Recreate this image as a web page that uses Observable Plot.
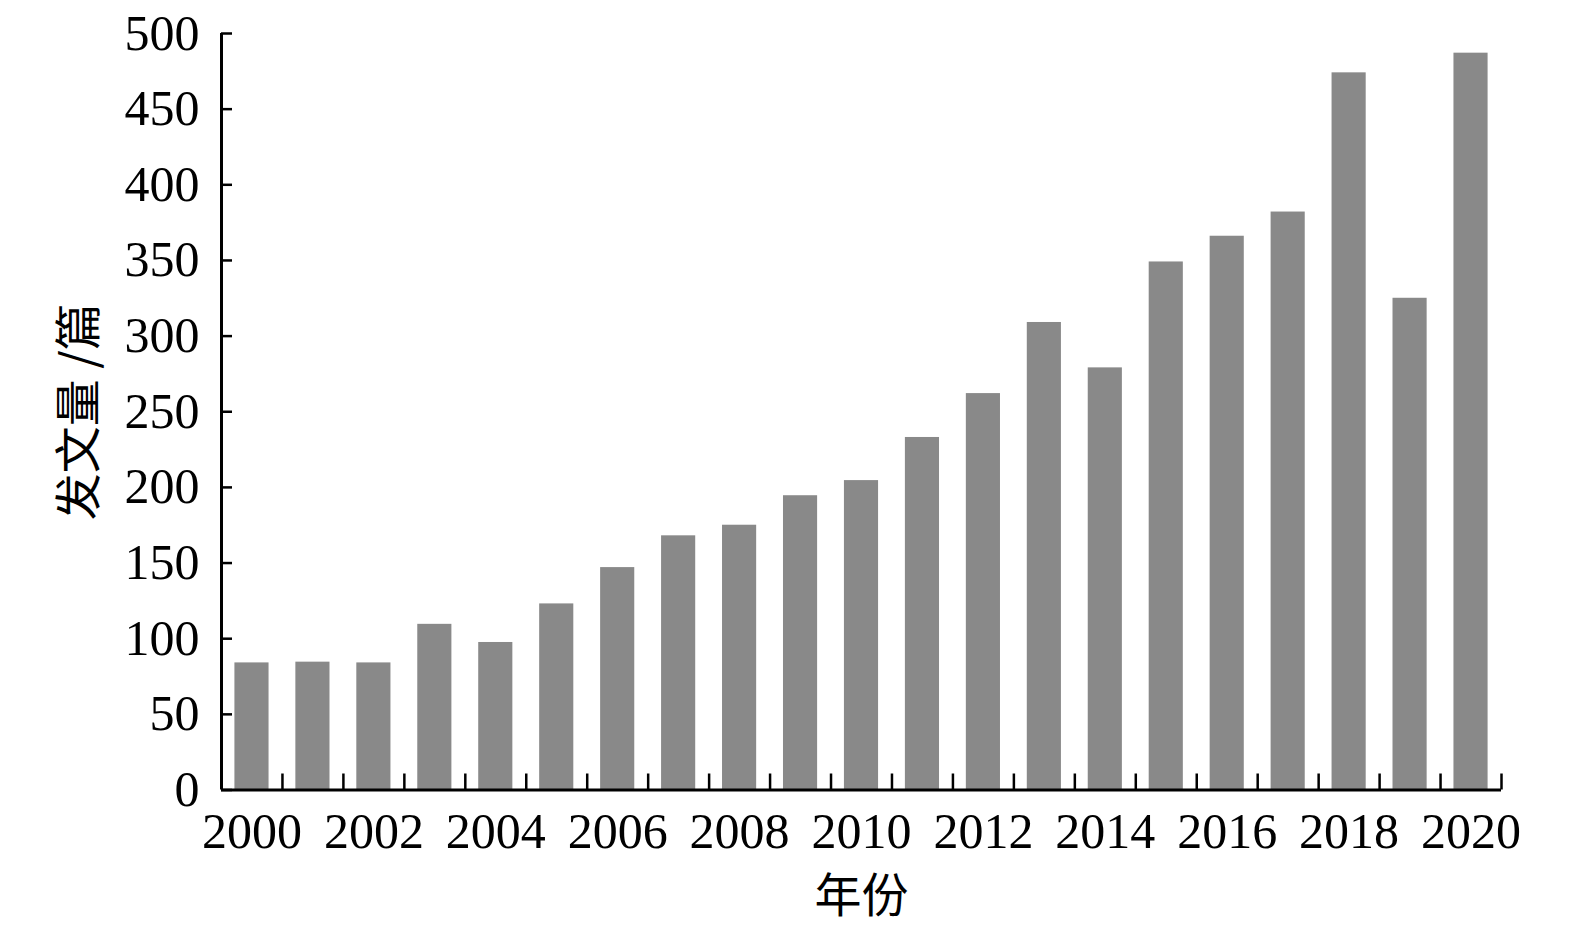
<!DOCTYPE html>
<html>
<head>
<meta charset="utf-8">
<script src="https://cdn.jsdelivr.net/npm/d3@7"></script>
<script src="https://cdn.jsdelivr.net/npm/@observablehq/plot@0.6"></script>
<style>
  body { margin: 0; background: #ffffff; }
  #chart svg { display: block; }
</style>
</head>
<body>
<div id="chart"></div>
<script>
// ---- data ----
const years = [2000, 2001, 2002, 2003, 2004, 2005, 2006, 2007, 2008, 2009, 2010,
               2011, 2012, 2013, 2014, 2015, 2016, 2017, 2018, 2019, 2020];
const counts = [84, 84.5, 84, 109.5, 97.5, 123, 147, 168, 175, 194.5, 204.5,
                233, 262, 309, 279, 349, 366, 382, 474, 325, 487];
const yTickValues = [0, 50, 100, 150, 200, 250, 300, 350, 400, 450, 500];
const xLabelYears = [2000, 2002, 2004, 2006, 2008, 2010, 2012, 2014, 2016, 2018, 2020];
const yAxisTitle = "发文量 /篇";
const xAxisTitle = "年份";

const data = years.map((year, i) => ({year, count: counts[i]}));
const halfBar = 0.28;
const boundaries = years.map(y => y + 0.5);

const serif = "'Liberation Serif', 'Times New Roman', serif";
const cjk = "'Noto Sans CJK SC', sans-serif";

const chart = Plot.plot({
  width: 1575,
  height: 931,
  marginTop: 33,
  marginBottom: 141.5,
  marginLeft: 221,
  marginRight: 74,
  style: {fontFamily: serif, fontSize: "50px", color: "#000", background: "#fff"},
  x: {type: "linear", domain: [years[0] - 0.5, years[years.length - 1] + 0.5]},
  y: {domain: [0, 500]},
  marks: [
    Plot.rectY(data, {x1: d => d.year - halfBar, x2: d => d.year + halfBar, y: "count", fill: "#898989"}),
    // y tick marks (inward)
    Plot.axisY({ticks: yTickValues, tickSize: 11, dx: 11, tickFormat: () => "", label: null, strokeWidth: 2.5}),
    // y tick labels
    Plot.axisY({ticks: yTickValues, tickSize: 0, tickPadding: 22, fontSize: 50, label: null, fontFamily: serif}),
    // x tick marks at band boundaries (inward)
    Plot.axisX({ticks: boundaries, tickSize: 16, dy: -16, tickFormat: () => "", label: null, strokeWidth: 2.5}),
    // x tick labels
    Plot.axisX({ticks: xLabelYears, tickSize: 0, tickPadding: 22, tickFormat: d => String(d), fontSize: 50, label: null, fontFamily: serif}),
    // axis lines
    Plot.ruleY([0], {strokeWidth: 3}),
    Plot.ruleX([years[0] - 0.5], {y1: 0, y2: 500, strokeWidth: 3}),
    // axis titles
    Plot.text([xAxisTitle], {text: d => d, frameAnchor: "bottom", dy: 107, lineAnchor: "middle", textAnchor: "middle", fontSize: 47, fontFamily: cjk, fill: "#000"}),
    Plot.text([yAxisTitle], {text: d => d, frameAnchor: "left", dx: -142, rotate: -90, lineAnchor: "middle", textAnchor: "middle", fontSize: 47, fontFamily: cjk, fill: "#000"})
  ]
});
document.getElementById("chart").appendChild(chart);
</script>
</body>
</html>
